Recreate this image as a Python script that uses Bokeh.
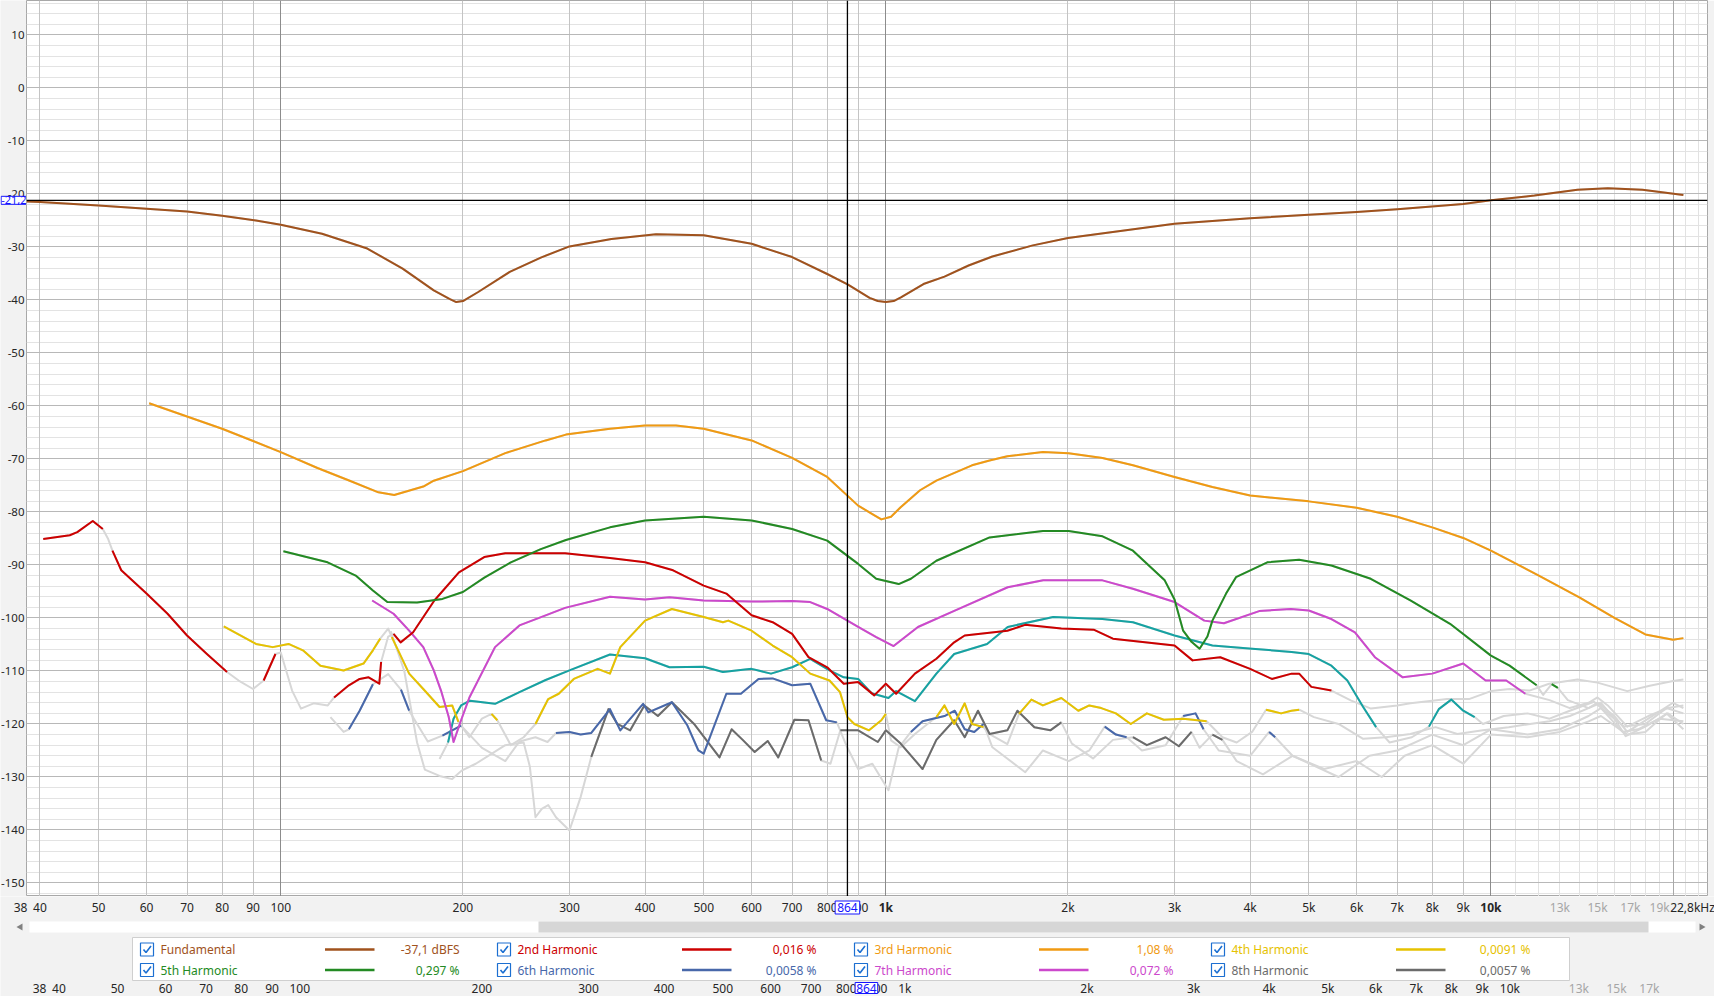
import math
from bokeh.plotting import figure
from bokeh.models import Range1d, FixedTicker, Grid, Label, Span, LogScale
from bokeh.layouts import column, row
from bokeh.embed import file_html
from bokeh.resources import INLINE
from bokeh.core.properties import value

# ---------------------------------------------------------------- data
x_tick_vals = [38, 40, 50, 60, 70, 80, 90, 100, 200, 300, 400, 500, 600, 700, 800, 900,
               1000, 2000, 3000, 4000, 5000, 6000, 7000, 8000, 9000, 10000,
               13000, 15000, 17000, 19000, 22800]
x_tick_text = ["38", "40", "50", "60", "70", "80", "90", "100", "200", "300", "400", "500",
               "600", "700", "800", "900", "1k", "2k", "3k", "4k", "5k", "6k", "7k", "8k",
               "9k", "10k", "13k", "15k", "17k", "19k", "22,8kHz"]
y_tick_vals = [10, 0, -10, -20, -30, -40, -50, -60, -70, -80, -90, -100, -110, -120, -130,
               -140, -150]
y_tick_text = ["10", "0", "-10", "-20", "-30", "-40", "-50", "-60", "-70", "-80", "-90",
               "-100", "-110", "-120", "-130", "-140", "-150"]
ghost_vals = [38, 40, 50, 60, 70, 80, 90, 100, 200, 300, 400, 500, 600, 700, 800, 900,
              1000, 2000, 3000, 4000, 5000, 6000, 7000, 8000, 9000, 10000, 13000, 15000, 17000]
ghost_text = ["38", "40", "50", "60", "70", "80", "90", "100", "200", "300", "400", "500",
              "600", "700", "800", "900", "1k", "2k", "3k", "4k", "5k", "6k", "7k", "8k", "9k",
              "10k", "13k", "15k", "17k"]

cursor_freq = 864
cursor_db = -21.2
cursor_freq_text = "864"
cursor_db_text = "-21,2"

legend_names = ["Fundamental", "2nd Harmonic", "3rd Harmonic", "4th Harmonic",
                "5th Harmonic", "6th Harmonic", "7th Harmonic", "8th Harmonic"]
legend_values = ["-37,1 dBFS", "0,016 %", "1,08 %", "0,0091 %",
                 "0,297 %", "0,0058 %", "0,072 %", "0,0057 %"]

fund_f = [38, 40, 50, 60, 70, 80, 91, 100,
          117, 139, 159, 179, 190, 195, 200, 212,
          239, 269, 300, 352, 417, 500, 600, 700,
          800, 866, 940, 970, 1000, 1030, 1059, 1154,
          1250, 1370, 1500, 1750, 2000, 3000, 4000, 5000,
          6000, 7000, 9000, 10000, 11800, 13900, 15600, 17800,
          20800]
fund_db = [-21.4, -21.5, -22.2, -22.8, -23.3, -24.1, -25.0, -25.8,
           -27.5, -30.3, -34.1, -38.2, -39.8, -40.4, -40.2, -38.5,
           -34.7, -32.0, -29.9, -28.5, -27.6, -27.8, -29.4, -31.9,
           -35.1, -37.1, -39.6, -40.2, -40.4, -40.2, -39.5, -37.0,
           -35.6, -33.5, -31.8, -29.7, -28.3, -25.6, -24.6, -23.9,
           -23.4, -22.9, -21.9, -21.2, -20.3, -19.2, -18.9, -19.2,
           -20.2]

h2_f = [40.5, 44.8, 46.1, 48.9, 50.8, 51.8, 52.7, 54.5, 60, 65,
        70, 75.5, 81.5, 85.2, 90, 93.7, 98, 100, 104.4, 108,
        113.3, 119.6, 122.5, 129.6, 135, 139.7, 145.5, 146.5, 150.5, 153.6,
        157.8, 165.5, 179.4, 197, 216.9, 235, 295, 350, 400, 445,
        500, 545, 600, 650, 700, 745, 800, 852, 900, 957,
        1000, 1040, 1117, 1212, 1297, 1350, 1588, 1699, 1950, 2205,
        2373, 3000, 3213, 3570, 4000, 4345, 4684, 4820, 5050, 5450,
        5877, 6335, 7000, 7362, 8000, 8462, 9200, 10000, 10735, 11574,
        12480, 13900, 15000, 16800, 18300, 20000, 20800]
h2_db = [-85.1, -84.4, -83.8, -81.7, -83.2, -85.0, -87.3, -91.0, -95.4, -99.2,
         -103.3, -106.8, -110.2, -111.8, -113.4, -111.8, -106.8, -106.5, -113.7, -117.1,
         -116.1, -116.5, -115.0, -112.7, -111.5, -111.2, -112.4, -108.3, -103.5, -103.0,
         -104.6, -102.7, -96.7, -91.4, -88.5, -87.8, -87.8, -88.7, -89.5, -91.0,
         -93.9, -95.4, -99.5, -100.8, -103.0, -107.4, -109.3, -112.4, -112.1, -114.6,
         -112.4, -114.3, -110.5, -107.7, -104.6, -103.3, -102.4, -101.3, -102.0, -102.2,
         -103.9, -105.2, -108.0, -107.4, -109.6, -111.5, -110.5, -110.5, -113.0, -113.7,
         -115.6, -117.1, -116.5, -116.1, -115.6, -115.3, -115.3, -113.8, -113.4, -113.7,
         -112.4, -111.6, -112.2, -113.8, -112.8, -111.9, -111.6]
h2_gray = [(51, 52), (83, 91), (99, 121), (148, 152), (5600, 21000)]

h3_f = [60.6, 70, 80, 90, 100, 115, 130, 145, 154, 172,
        179, 200, 235, 274, 296, 350, 400, 450, 500, 600,
        700, 800, 900, 950, 983, 1020, 1058, 1139, 1212, 1388,
        1484, 1588, 1818, 2005, 2281, 2561, 3000, 3465, 4000, 5000,
        6000, 7000, 8000, 9000, 10000, 12000, 14000, 16000, 18000, 20000,
        20800]
h3_db = [-59.5, -62.0, -64.3, -66.6, -68.7, -71.7, -74.1, -76.3, -76.8, -75.2,
         -74.1, -72.3, -68.9, -66.5, -65.4, -64.3, -63.7, -63.7, -64.3, -66.5,
         -69.8, -73.4, -78.8, -80.4, -81.4, -80.9, -79.1, -75.9, -74.1, -71.2,
         -70.3, -69.5, -68.7, -68.9, -69.8, -71.2, -73.4, -75.3, -76.9, -78.0,
         -79.2, -80.9, -82.9, -84.9, -87.3, -92.0, -96.1, -100.0, -103.1, -104.1,
         -103.8]
h3_gray = []

h4_f = [80.5, 91, 97, 103, 108.8, 116.3, 127, 137, 142, 146,
        150.5, 152.6, 163, 172, 183, 192, 196.6, 205, 215, 223,
        228, 240, 252, 263.6, 276.7, 288, 305, 334, 350, 364,
        400, 443, 500, 538, 549, 600, 650, 700, 750, 807,
        840, 864, 887, 938, 983, 1000, 1020, 1058, 1117, 1212,
        1250, 1297, 1350, 1388, 1450, 1484, 1588, 1660, 1740, 1818,
        1950, 2080, 2169, 2270, 2400, 2540, 2700, 2880, 3100, 3390,
        3600, 3800, 4030, 4250, 4500, 4680, 4820, 5100, 5600,
        6150, 6700, 7360, 8100, 8800, 9700, 10700, 11600, 12500, 13500,
        14500, 15200, 16000, 16700, 18000, 19600, 20800]
h4_db = [-101.6, -104.9, -105.5, -104.9, -106.1, -109.0, -109.9, -108.6, -106.1, -103.9,
         -102.0, -103.6, -110.5, -113.4, -116.8, -116.5, -119.6, -122.5, -119.0, -118.1,
         -119.3, -124.0, -122.5, -120.0, -115.3, -114.3, -111.5, -109.6, -110.5, -105.5,
         -100.5, -98.3, -99.8, -100.8, -100.5, -102.4, -105.2, -107.4, -110.5, -111.8,
         -114.0, -118.7, -120.0, -121.2, -119.3, -118.1, -123.1, -124.4, -121.9, -118.7,
         -116.5, -120.0, -116.1, -120.0, -120.6, -121.9, -123.8, -118.1, -115.4, -116.5,
         -115.1, -117.5, -116.5, -117.0, -118.0, -120.0, -118.0, -119.2, -119.0, -119.5,
         -122.5, -123.5, -121.5, -117.3, -118.0, -117.5, -117.3, -118.7, -120.0,
         -122.8, -122.5, -121.9, -120.6, -121.9, -121.2, -120.6, -120.0, -119.5, -118.5,
         -117.0, -116.0, -119.0, -122.3, -120.5, -118.0, -120.0]
h4_gray = [(148, 151), (198, 220), (235, 258), (1010, 1150), (1470, 1600), (3500, 4100),
           (5050, 21000)]

h5_f = [101, 119.5, 133, 142, 150, 168, 185, 200, 217, 240,
        269, 296, 350, 400, 500, 600, 700, 800, 900, 964,
        1050, 1100, 1212, 1484, 1818, 2005, 2281, 2561, 2890, 3000,
        3100, 3200, 3300, 3400, 3465, 3650, 3790, 4270, 4820, 5450,
        6330, 7360, 8560, 10000, 10735, 11900, 12200, 12600, 12900, 13400,
        14500, 15000, 16000, 16800, 18200, 20000, 20800]
h5_db = [-87.4, -89.5, -92.0, -94.8, -97.0, -97.1, -96.4, -95.1, -92.4, -89.5,
         -87.0, -85.3, -82.9, -81.6, -80.9, -81.6, -83.2, -85.4, -89.8, -92.6,
         -93.6, -92.6, -89.2, -84.8, -83.6, -83.6, -84.6, -87.3, -92.9, -96.5,
         -102.4, -104.5, -105.8, -103.5, -100.5, -95.4, -92.3, -89.5, -89.0, -90.1,
         -92.6, -96.7, -101.1, -107.1, -109.0, -112.7, -114.5, -112.5, -113.2, -115.5,
         -117.0, -116.0, -118.5, -121.5, -119.0, -116.0, -117.0]
h5_gray = [(12000, 12400), (13200, 21000)]

h6_f = [120.8, 127, 129.6, 135, 142, 150.5, 158, 163, 168, 175,
        185, 198.6, 215, 235, 248, 263.6, 276, 285, 300, 313,
        326, 350, 364, 397, 405, 443, 470, 490, 500, 545,
        576, 616, 650, 700, 750, 797, 830, 860, 900, 950,
        1010, 1050, 1100, 1150, 1250, 1300, 1350, 1400, 1450, 1500,
        1700, 1818, 2005, 2169, 2300, 2400, 2500, 2650, 2900, 3100,
        3250, 3350, 3550, 4000, 4300, 4400, 4700, 5600, 6300, 7000,
        8000, 9000, 10000, 11500, 13000, 14500, 15200, 16500, 17500, 19000,
        20800]
h6_db = [-118.7, -121.5, -121.0, -117.5, -112.5, -110.6, -113.5, -117.5, -120.0, -123.3,
         -122.2, -120.3, -124.5, -127.0, -123.3, -122.5, -123.4, -121.7, -121.5, -122.0,
         -121.7, -117.2, -121.2, -116.2, -117.8, -115.9, -120.3, -125.0, -125.6, -114.3,
         -114.3, -111.5, -111.4, -112.7, -112.4, -119.3, -119.7, -124.0, -128.5, -127.5,
         -132.5, -124.5, -121.5, -119.5, -118.5, -117.5, -121.0, -121.5, -120.0, -124.4,
         -129.1, -125.0, -127.0, -125.0, -120.5, -122.0, -122.5, -125.0, -124.0, -118.5,
         -118.0, -121.0, -125.0, -126.0, -121.5, -122.5, -126.0, -130.0, -126.0, -125.0,
         -122.0, -124.0, -121.0, -122.0, -121.0, -118.5, -117.0, -121.5, -121.0, -119.0,
         -119.5]
h6_gray = [(124, 128), (148, 152), (166, 180), (205, 258), (270, 280), (845, 1060),
           (1480, 2250), (2600, 3000), (3450, 4200), (4600, 21000)]

h7_f = [141.6, 153.6, 163, 172, 179, 184, 189.5, 193, 198.6, 205,
        226, 248, 274, 295, 350, 400, 439, 500, 600, 700,
        750, 800, 900, 964, 1030, 1130, 1300, 1590, 1820, 2280,
        2560, 3000, 3360, 3620, 4140, 4670, 5000, 5450, 5960, 6430,
        7150, 8000, 9000, 9800, 10600, 11400, 12500, 13500, 14500, 15000,
        15600, 16800, 18200, 19600, 20800]
h7_db = [-96.7, -99.2, -102.4, -105.5, -109.9, -113.7, -118.7, -123.4, -119.3, -115.0,
         -105.5, -101.4, -99.5, -98.1, -96.0, -96.5, -96.1, -96.7, -96.9, -96.8,
         -97.0, -98.3, -101.7, -103.6, -105.3, -101.7, -98.6, -94.2, -92.9, -92.9,
         -94.5, -97.0, -100.5, -101.0, -98.7, -98.3, -98.6, -100.2, -102.7, -107.4,
         -111.2, -110.5, -108.6, -111.8, -111.8, -114.3, -115.5, -117.0, -116.0, -115.0,
         -116.5, -120.5, -118.5, -117.0, -116.5]
h7_gray = [(12000, 21000)]

h8_f = [152, 160, 168, 173, 183, 192, 199, 210, 235, 252,
        258, 263.6, 270, 276.7, 285, 300, 313, 326, 348, 360,
        378, 399, 420, 443, 482, 531, 556, 580, 607, 638,
        664, 706, 745, 782, 810, 841, 900, 970, 1000, 1058,
        1150, 1212, 1297, 1350, 1420, 1484, 1588, 1650, 1760, 1870,
        1950, 2030, 2200, 2373, 2561, 2700, 2900, 3050, 3200, 3300,
        3465, 3600, 3800, 4200, 4700, 5300, 6000, 6600, 7200, 8000,
        9000, 10000, 11500, 13000, 14500, 15200, 16800, 18000, 19500, 20800]
h8_db = [-102.5, -110.0, -123.5, -128.6, -129.8, -130.4, -128.8, -127.5, -124.0, -123.5,
         -128.0, -137.6, -136.0, -135.3, -137.6, -140.1, -133.8, -126.2, -117.2, -120.0,
         -121.2, -116.5, -118.5, -115.9, -120.0, -126.3, -121.0, -123.0, -125.3, -123.2,
         -126.3, -119.2, -119.3, -126.9, -127.5, -121.2, -121.2, -123.4, -121.2, -123.7,
         -128.5, -123.0, -119.3, -122.5, -117.5, -121.9, -121.2, -117.5, -120.6, -121.2,
         -119.7, -123.7, -126.5, -123.0, -122.5, -124.0, -122.5, -124.2, -121.5, -124.5,
         -122.0, -123.0, -127.0, -129.5, -126.0, -128.5, -127.0, -130.0, -126.0, -124.0,
         -127.5, -122.0, -122.5, -121.5, -119.5, -118.5, -122.0, -121.5, -118.0, -121.0]
h8_gray = [(150, 320), (800, 815), (2000, 2450), (3250, 3350), (3700, 21000)]

h9_f = [183, 189, 193, 198.6, 205.4, 226, 248, 274, 300, 350,
        400, 439, 500, 538, 600, 646, 700, 750, 807, 852,
        900, 947, 1010, 1040, 1117, 1212, 1297, 1470, 1590, 1890,
        2280, 2561, 3000, 3465, 4030, 4684, 5000, 5450, 5790, 6150,
        6460, 6800, 7400, 7900, 8200, 8600, 9000, 9400, 9700, 10500,
        11500, 12500, 13500, 14800, 15600, 16600, 18000, 19500, 20800]
h9_db = [-126.6, -123.5, -119.0, -116.5, -115.6, -116.2, -114.0, -111.7, -109.9, -106.9,
         -107.6, -109.3, -109.2, -110.2, -109.6, -110.5, -109.3, -107.7, -109.9, -111.2,
         -111.5, -114.2, -115.1, -113.8, -115.7, -110.5, -106.8, -104.9, -101.7, -99.8,
         -100.2, -100.8, -103.3, -105.2, -105.8, -106.4, -106.8, -109.0, -111.8, -116.8,
         -120.6, -123.5, -122.5, -120.5, -117.2, -115.4, -117.5, -118.7, -120.0, -118.5,
         -118.0, -119.0, -117.5, -115.8, -118.0, -120.5, -120.0, -117.0, -118.0]
h9_gray = [(180, 186), (6600, 7700), (9600, 21000)]

# ---------------------------------------------------------------- style
FONT = "Noto Sans"
C_FUND = "#a0521d"
C_H2 = "#cc0000"
C_H3 = "#f09a12"
C_H4 = "#e6c200"
C_H5 = "#238a23"
C_H6 = "#4868aa"
C_H7 = "#cc48cc"
C_H8 = "#6b6b6b"
C_H9 = "#16a2a2"
C_NOISE = "#d7d7d7"
C_CURSOR = "#1414ff"
C_CHECK = "#1c6fd1"
C_LABEL = "#262626"
C_LIGHT = "#a6a6a6"
C_PANEL = "#f2f2f2"
legend_colors = [C_FUND, C_H2, C_H3, C_H4, C_H5, C_H6, C_H7, C_H8]

W_TOTAL = 1714
W_LEFT = 26            # y label column
RIGHT_PAD = 7
H_MAIN = 896
H_BOT = 100
F_MIN, F_MAX = 38.0, 22800.0
DB_MIN, DB_MAX = -152.55, 16.5
GHOST_SHIFT = 19

series = [
    (h8_f, h8_db, h8_gray, C_H8),
    (h6_f, h6_db, h6_gray, C_H6),
    (h9_f, h9_db, h9_gray, C_H9),
    (h4_f, h4_db, h4_gray, C_H4),
    (h7_f, h7_db, h7_gray, C_H7),
    (h2_f, h2_db, h2_gray, C_H2),
    (h5_f, h5_db, h5_gray, C_H5),
    (h3_f, h3_db, h3_gray, C_H3),
    (fund_f, fund_db, [], C_FUND),
]
for f, d, g, c in series:
    assert len(f) == len(d), (len(f), len(d), c)

# ---------------------------------------------------------------- main plot
W_MAIN = W_TOTAL - W_LEFT
p = figure(width=W_MAIN, height=H_MAIN, x_axis_type="log",
           x_range=Range1d(F_MIN, F_MAX), y_range=Range1d(DB_MIN, DB_MAX),
           output_backend="svg", toolbar_location=None,
           x_axis_location=None, y_axis_location=None,
           min_border_left=0, min_border_right=RIGHT_PAD, min_border_top=0,
           min_border_bottom=0)
p.grid.visible = False
p.background_fill_color = "#ffffff"
p.border_fill_color = C_PANEL
p.outline_line_color = "#a8a8a8"


def add_grid(dim, ticks, color):
    p.add_layout(Grid(dimension=dim, ticker=FixedTicker(ticks=ticks),
                      grid_line_color=color, grid_line_width=1))


add_grid(1, [v for v in range(-152, 17, 2) if v % 10 != 0], "#e3e3e3")
add_grid(0, [k * 1000 for k in range(11, 23) if k != 20], "#e2e2e2")
add_grid(0, [m * d for d in (10, 100, 1000) for m in range(2, 10) if m * d >= F_MIN], "#c4c4c4")
add_grid(1, list(range(-150, 17, 10)), "#b8b8b8")
add_grid(0, [20000], "#a8a8a8")
add_grid(0, [100, 1000, 10000], "#8c8c8c")

# curves: the whole trace in light grey first, the coloured parts on top
for f, d, g, c in series:
    p.line(f, d, line_color=C_NOISE, line_width=2, line_join="round")
for f, d, g, c in series:
    on = [not any(a <= fr <= b for a, b in g) for fr in f]
    dm = [v if o else float("nan") for v, o in zip(d, on)]
    p.line(f, dm, line_color=c, line_width=2, line_join="round")

p.add_layout(Span(location=cursor_freq, dimension="height", line_color="black", line_width=1.3))
p.add_layout(Span(location=cursor_db, dimension="width", line_color="black", line_width=1.3))

# ---------------------------------------------------------------- y label column
pl = figure(width=W_LEFT, height=H_MAIN, x_range=Range1d(0, W_LEFT), y_range=p.y_range,
            output_backend="svg", toolbar_location=None, min_border=0,
            x_axis_location=None, y_axis_location=None)
pl.grid.visible = False
pl.outline_line_color = None
pl.background_fill_color = C_PANEL
pl.border_fill_color = C_PANEL
pl.text(x=[W_LEFT - 2] * len(y_tick_vals), y=y_tick_vals, text=y_tick_text,
        text_color=C_LABEL, text_font=value(FONT), text_font_size="11.5px",
        text_align="right", text_baseline="middle")
pl.add_layout(Label(x=W_LEFT, y=cursor_db, text=cursor_db_text, text_align="right",
                    text_baseline="middle", text_color=C_CURSOR, text_font=FONT,
                    text_font_size="11px", background_fill_color="white",
                    border_line_color=C_CURSOR, padding=0))

# ---------------------------------------------------------------- bottom strip
p2 = figure(width=W_TOTAL, height=H_BOT, x_range=Range1d(0, W_TOTAL),
            y_range=Range1d(H_BOT, 0), output_backend="svg", toolbar_location=None,
            min_border=0, x_axis_location=None, y_axis_location=None)
p2.grid.visible = False
p2.outline_line_color = None
p2.background_fill_color = C_PANEL
p2.border_fill_color = C_PANEL

decade = (W_MAIN - RIGHT_PAD) / math.log10(F_MAX / F_MIN)
fa = F_MIN * 10 ** (-W_LEFT / decade)
fb = F_MAX * 10 ** (RIGHT_PAD / decade)
ga = F_MIN * 10 ** (-(W_LEFT + GHOST_SHIFT) / decade)
gb = F_MAX * 10 ** ((RIGHT_PAD - GHOST_SHIFT) / decade)
p2.extra_x_ranges = {"main": Range1d(fa, fb), "ghost": Range1d(ga, gb)}
p2.extra_x_scales = {"main": LogScale(), "ghost": LogScale()}

# frequency labels of the main plot
lab_colors = [C_LIGHT if 10000 < v < 22000 else C_LABEL for v in x_tick_vals]
lab_styles = ["bold" if v in (1000, 10000) else "normal" for v in x_tick_vals]
lab_shift = [-6 if v == 38 else (-15 if v == 22800 else 0) for v in x_tick_vals]
p2.text(x=x_tick_vals, y=[11] * len(x_tick_vals), text=x_tick_text, text_color=lab_colors,
        text_font=value(FONT), text_font_size="12px", text_font_style=lab_styles,
        x_offset=lab_shift, text_baseline="middle", text_align="center", x_range_name="main")
p2.add_layout(Label(x=cursor_freq, y=11, x_range_name="main", text=cursor_freq_text,
                    text_align="center", text_baseline="middle", text_color=C_CURSOR,
                    text_font=FONT, text_font_size="12px", background_fill_color="white",
                    border_line_color=C_CURSOR, padding=2))

# scroll bar
p2.quad(left=[29], right=[1695], top=[25], bottom=[36], fill_color="white", line_color=None)
p2.quad(left=[538], right=[1648], top=[25], bottom=[36], fill_color="#d6d6d6", line_color=None)
p2.scatter(x=[20, 1701], y=[30.5, 30.5], marker="triangle", size=7,
           angle=[math.pi / 2, -math.pi / 2], fill_color="#808080", line_color=None)

# legend
LEG_X0, LEG_X1, LEG_Y0, LEG_Y1 = 132, 1569, 41, 84
ROW_Y = [53, 73.5]
COL_DX = 357
CB_X, NAME_X, LINE_X0, LINE_X1, VAL_X = 146.5, 160, 324.5, 374, 459
p2.quad(left=[LEG_X0], right=[LEG_X1], top=[LEG_Y0], bottom=[LEG_Y1],
        fill_color="white", line_color="#cfcfcf")
ix, iy = [], []
for i in range(len(legend_names)):
    ix.append((i % 4) * COL_DX)
    iy.append(ROW_Y[i // 4])
cbx = [CB_X + dx for dx in ix]
p2.scatter(x=cbx, y=iy, marker="square", size=13, fill_color="white",
           line_color=C_CHECK, line_width=1.2)
p2.multi_line(xs=[[x - 3.5, x - 1, x + 4] for x in cbx],
              ys=[[y, y + 3, y - 3.5] for y in iy], line_color=C_CHECK, line_width=1.6)
p2.text(x=[NAME_X + dx for dx in ix], y=iy, text=legend_names, text_color=legend_colors,
        text_font=value(FONT), text_font_size="12px", text_baseline="middle", text_align="left")
p2.segment(x0=[LINE_X0 + dx for dx in ix], y0=iy, x1=[LINE_X1 + dx for dx in ix], y1=iy,
           line_color=legend_colors, line_width=2.5)
p2.text(x=[VAL_X + dx for dx in ix], y=iy, text=legend_values, text_color=legend_colors,
        text_font=value(FONT), text_font_size="12px", text_baseline="middle", text_align="right")

# repeated frequency scale at the very bottom
ghost_colors = [C_LIGHT if v > 10000 else C_LABEL for v in ghost_vals]
ghost_shift = [-6 if v == 38 else 0 for v in ghost_vals]
p2.text(x=ghost_vals, y=[91.5] * len(ghost_vals), text=ghost_text, text_color=ghost_colors,
        text_font=value(FONT), text_font_size="12px", text_baseline="middle",
        x_offset=ghost_shift, text_align="center", x_range_name="ghost")
p2.add_layout(Label(x=cursor_freq, y=91.5, x_range_name="ghost", text=cursor_freq_text,
                    text_align="center", text_baseline="middle", text_color=C_CURSOR,
                    text_font=FONT, text_font_size="12px", background_fill_color="white",
                    border_line_color=C_CURSOR, padding=1))

layout = column(row(pl, p, spacing=0), p2, spacing=0)
open("out.html", "w").write(file_html(layout, INLINE))
